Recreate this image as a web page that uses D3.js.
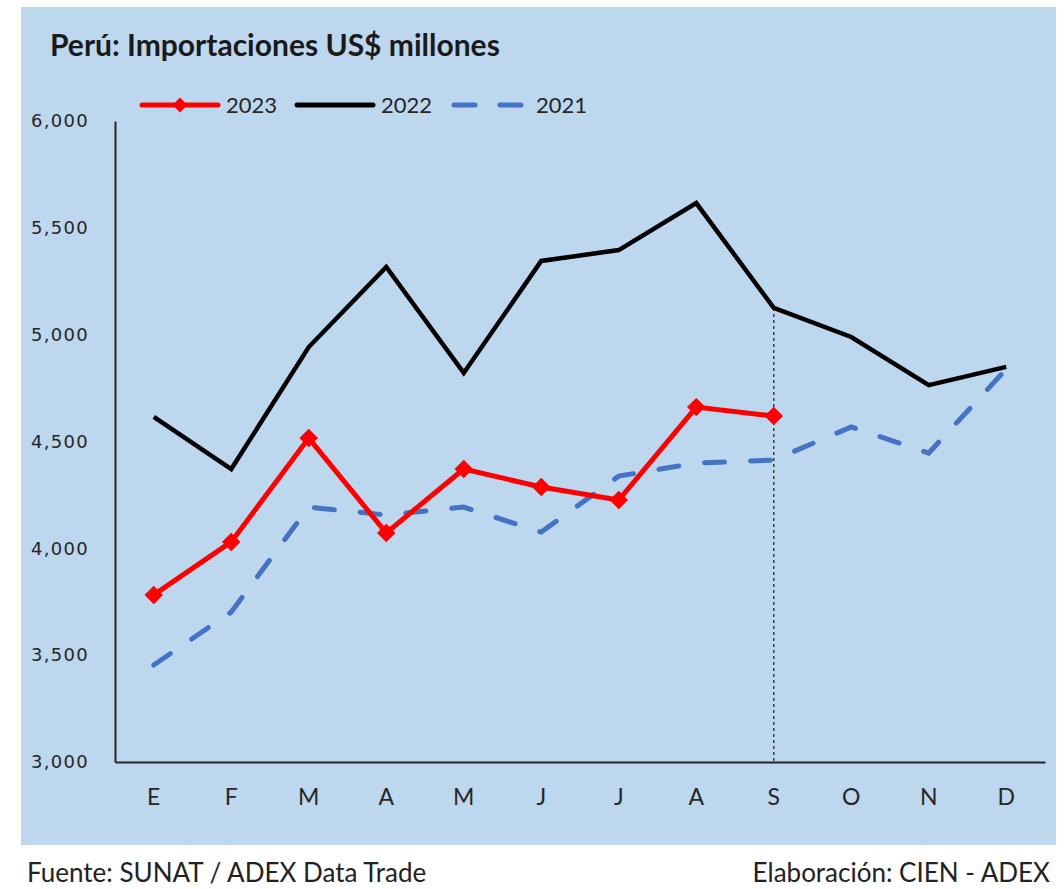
<!DOCTYPE html>
<html>
<head>
<meta charset="utf-8">
<script src="https://cdn.jsdelivr.net/npm/d3@7"></script>
<style>
  body { margin: 0; background: #ffffff; }
  .axis path { stroke: #262626; stroke-width: 2; }
  .yaxis text { font-family: "DejaVu Sans", Verdana, sans-serif; font-size: 18px; fill: #262626; letter-spacing: 1.3px; }
  .xaxis text { font-family: Lato, "Open Sans", sans-serif; font-size: 23px; fill: #262626; }
</style>
</head>
<body>
<div id="chart"></div>
<script>
// month labels (Spanish initials)
var months = ["E", "F", "M", "A", "M", "J", "J", "A", "S", "O", "N", "D"];
// imports, US$ millions
var imp2023 = [3782, 4030, 4516, 4072, 4371, 4287, 4226, 4661, 4619];
var imp2022 = [4615, 4371, 4942, 5317, 4821, 5345, 5396, 5616, 5125, 4989, 4764, 4849];
var imp2021 = [3454, 3702, 4193, 4156, 4193, 4076, 4338, 4399, 4413, 4568, 4446, 4839];
var yTicks = [3000, 3500, 4000, 4500, 5000, 5500, 6000];

var svgWidth = 1064;
var svgHeight = 889;

var svg = d3.select("#chart")
  .append("svg")
  .attr("width", svgWidth)
  .attr("height", svgHeight);

// light blue panel
svg.append("rect")
  .attr("x", 21)
  .attr("y", 7)
  .attr("width", 1035)
  .attr("height", 838)
  .attr("fill", "#BDD7EE");

// title
svg.append("text")
  .attr("x", 50)
  .attr("y", 56)
  .attr("font-family", "Lato, 'Open Sans', sans-serif")
  .attr("font-weight", "bold")
  .attr("font-size", "30px")
  .attr("fill", "#1a1a1a")
  .text("Perú: Importaciones US$ millones");

// scales
var xScale = d3.scaleBand()
  .domain(d3.range(months.length))
  .range([115, 1045]);

var yScale = d3.scaleLinear()
  .domain([3000, 6000])
  .range([762, 121]);

var xc = function(i) { return xScale(i) + xScale.bandwidth() / 2; };

// axes
svg.append("g")
  .attr("class", "axis yaxis")
  .attr("transform", "translate(115,0)")
  .call(d3.axisLeft(yScale).tickValues(yTicks).tickSize(0).tickSizeOuter(0)
    .tickPadding(26).tickFormat(d3.format(",")));

svg.append("g")
  .attr("class", "axis xaxis")
  .attr("transform", "translate(0,762)")
  .call(d3.axisBottom(xScale).tickSize(0).tickSizeOuter(0)
    .tickPadding(27).tickFormat(function(i) { return months[i]; }));

// dotted guide at the last month of 2023
svg.append("line")
  .attr("x1", xc(imp2023.length - 1))
  .attr("x2", xc(imp2023.length - 1))
  .attr("y1", yScale(imp2022[imp2023.length - 1]))
  .attr("y2", yScale(3000))
  .attr("stroke", "#404040")
  .attr("stroke-width", 1.5)
  .attr("stroke-dasharray", "3,3");

var line = d3.line()
  .x(function(d, i) { return xc(i); })
  .y(function(d) { return yScale(d); });

// 2021 dashed
svg.append("path")
  .datum(imp2021)
  .attr("d", line)
  .attr("fill", "none")
  .attr("stroke", "#4472C4")
  .attr("stroke-width", 5)
  .attr("stroke-linecap", "round")
  .attr("stroke-dasharray", "20,26");

// 2022 black
svg.append("path")
  .datum(imp2022)
  .attr("d", line)
  .attr("fill", "none")
  .attr("stroke", "#000000")
  .attr("stroke-width", 4.5)
  .attr("stroke-linejoin", "miter");

// 2023 red with diamonds
svg.append("path")
  .datum(imp2023)
  .attr("d", line)
  .attr("fill", "none")
  .attr("stroke", "#FF0000")
  .attr("stroke-width", 5);

var diamond = d3.symbol().type(d3.symbolSquare).size(170);
svg.selectAll(".dot")
  .data(imp2023)
  .enter()
  .append("path")
  .attr("class", "dot")
  .attr("d", diamond)
  .attr("transform", function(d, i) { return "translate(" + xc(i) + "," + yScale(d) + ") rotate(45)"; })
  .attr("fill", "#FF0000");

// legend
var legendY = 105;
var legendFont = "Lato, 'Open Sans', sans-serif";

svg.append("line").attr("x1", 142).attr("x2", 218).attr("y1", legendY).attr("y2", legendY)
  .attr("stroke", "#FF0000").attr("stroke-width", 5).attr("stroke-linecap", "round");
svg.append("path").attr("d", d3.symbol().type(d3.symbolSquare).size(110))
  .attr("transform", "translate(180," + legendY + ") rotate(45)").attr("fill", "#FF0000");
svg.append("text").attr("x", 226).attr("y", legendY + 8)
  .attr("font-family", legendFont).attr("font-size", "22px").attr("fill", "#262626").text("2023");

svg.append("line").attr("x1", 297).attr("x2", 373).attr("y1", legendY).attr("y2", legendY)
  .attr("stroke", "#000000").attr("stroke-width", 5).attr("stroke-linecap", "round");
svg.append("text").attr("x", 381).attr("y", legendY + 8)
  .attr("font-family", legendFont).attr("font-size", "22px").attr("fill", "#262626").text("2022");

svg.append("line").attr("x1", 454).attr("x2", 522).attr("y1", legendY).attr("y2", legendY)
  .attr("stroke", "#4472C4").attr("stroke-width", 5).attr("stroke-linecap", "round")
  .attr("stroke-dasharray", "21,25");
svg.append("text").attr("x", 536).attr("y", legendY + 8)
  .attr("font-family", legendFont).attr("font-size", "22px").attr("fill", "#262626").text("2021");

// footer
svg.append("text").attr("x", 27).attr("y", 882)
  .attr("font-family", legendFont).attr("font-size", "26px").attr("fill", "#222222")
  .text("Fuente: SUNAT / ADEX Data Trade");

svg.append("text").attr("x", 1050).attr("y", 882)
  .attr("text-anchor", "end")
  .attr("font-family", legendFont).attr("font-size", "26px").attr("fill", "#222222")
  .text("Elaboración: CIEN - ADEX");
</script>
</body>
</html>
